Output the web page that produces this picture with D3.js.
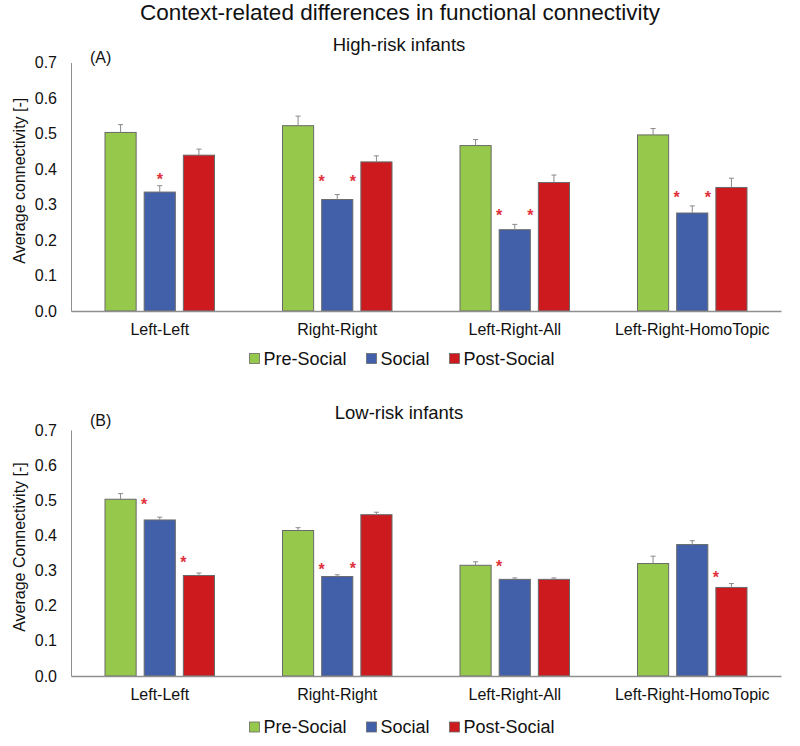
<!DOCTYPE html>
<html>
<head>
<meta charset="utf-8">
<script src="https://cdn.jsdelivr.net/npm/d3@7"></script>
<style>
  html, body { margin: 0; padding: 0; background: #fff; }
  svg { display: block; font-family: "Liberation Sans", Arial, sans-serif; }
</style>
</head>
<body>
<svg id="chart" width="800" height="746"></svg>
<script>
// ---------- data ----------
const categories = ["Left-Left", "Right-Right", "Left-Right-All", "Left-Right-HomoTopic"];
const seriesNames = ["Pre-Social", "Social", "Post-Social"];
const yTicks = [0.0, 0.1, 0.2, 0.3, 0.4, 0.5, 0.6, 0.7];

const titleText = "Context-related differences in functional connectivity";

// (A) High-risk infants
const highPre       = [0.503, 0.522, 0.466, 0.496];
const highSocial    = [0.335, 0.314, 0.229, 0.276];
const highPost      = [0.439, 0.420, 0.362, 0.348];
const highPreErr    = [0.022, 0.027, 0.017, 0.018];
const highSocialErr = [0.018, 0.014, 0.015, 0.020];
const highPostErr   = [0.017, 0.017, 0.021, 0.026];
// significance markers: category, anchored bar, which edge of that bar, height value
const highStars = [
  ["Left-Left", "Social", "center", 0.383],
  ["Right-Right", "Social", "left", 0.377],
  ["Right-Right", "Social", "right", 0.377],
  ["Left-Right-All", "Social", "left", 0.281],
  ["Left-Right-All", "Social", "right", 0.281],
  ["Left-Right-HomoTopic", "Social", "left", 0.330],
  ["Left-Right-HomoTopic", "Social", "right", 0.330]
];

// (B) Low-risk infants
const lowPre       = [0.503, 0.414, 0.315, 0.320];
const lowSocial    = [0.444, 0.283, 0.275, 0.374];
const lowPost      = [0.286, 0.459, 0.275, 0.252];
const lowPreErr    = [0.016, 0.008, 0.010, 0.021];
const lowSocialErr = [0.008, 0.005, 0.004, 0.011];
const lowPostErr   = [0.007, 0.007, 0.004, 0.011];
const lowStars = [
  ["Left-Left", "Social", "left", 0.500],
  ["Left-Left", "Post-Social", "left", 0.335],
  ["Right-Right", "Social", "left", 0.315],
  ["Right-Right", "Social", "right", 0.317],
  ["Left-Right-All", "Social", "left", 0.322],
  ["Left-Right-HomoTopic", "Post-Social", "left", 0.293]
];

// ---------- styling ----------
const colors = { "Pre-Social": "#95C84B", "Social": "#4160A9", "Post-Social": "#CC1A1F" };
const axisColor = "#8f8f8f";
const barStroke = "#6a6a6a";
const errColor = "#8a8a8a";
const starColor = "#E0323B";

const svg = d3.select("#chart");

svg.append("text")
  .attr("x", 400).attr("y", 20)
  .attr("text-anchor", "middle")
  .style("font-size", "22.5px").style("fill", "#111")
  .text(titleText);

const panels = [
  { label: "(A)", subtitle: "High-risk infants", yLabel: "Average connectivity [-]",
    top: 62.5, bottom: 311, subY: 51, tagY: 63, legendOffset: 47.5,
    values: [highPre, highSocial, highPost], errs: [highPreErr, highSocialErr, highPostErr], stars: highStars },
  { label: "(B)", subtitle: "Low-risk infants", yLabel: "Average Connectivity [-]",
    top: 430, bottom: 676, subY: 419, tagY: 426, legendOffset: 51,
    values: [lowPre, lowSocial, lowPost], errs: [lowPreErr, lowSocialErr, lowPostErr], stars: lowStars }
];

const left = 71, right = 781;
const x0 = d3.scaleBand().domain(categories).range([left, right]).padding(0);
const x1 = d3.scaleBand().domain(seriesNames).range([34, 143.5]).paddingInner(0.205).paddingOuter(0);

panels.forEach(p => {
  const g = svg.append("g");
  const y = d3.scaleLinear().domain([0, 0.7]).range([p.bottom, p.top]);

  // subtitle + tag
  g.append("text").attr("x", 399).attr("y", p.subY).attr("text-anchor", "middle")
    .style("font-size", "18.5px").style("fill", "#111").text(p.subtitle);
  g.append("text").attr("x", 90).attr("y", p.tagY)
    .style("font-size", "16px").style("fill", "#111").text(p.label);

  // y axis
  const yAxis = g.append("g").attr("transform", `translate(${left},0)`)
    .call(d3.axisLeft(y).tickValues(yTicks).tickFormat(d3.format(".1f")).tickSize(0).tickPadding(14));
  yAxis.select(".domain").attr("stroke", axisColor);
  yAxis.selectAll("text").style("font-size", "16px").style("fill", "#111").style("font-family", "Liberation Sans, Arial, sans-serif");

  // y label
  g.append("text")
    .attr("transform", `translate(25,${(p.top + p.bottom) / 2 - 6}) rotate(-90)`)
    .attr("text-anchor", "middle")
    .style("font-size", "16px").style("fill", "#111")
    .text(p.yLabel);

  // bars
  const rows = [];
  categories.forEach((c, ci) => {
    seriesNames.forEach((s, si) => {
      rows.push({ cat: c, series: s, v: p.values[si][ci], e: p.errs[si][ci] });
    });
  });

  g.selectAll("rect.bar").data(rows).join("rect")
    .attr("class", "bar")
    .attr("x", d => x0(d.cat) + x1(d.series))
    .attr("y", d => y(d.v))
    .attr("width", x1.bandwidth())
    .attr("height", d => y(0) - y(d.v))
    .attr("fill", d => colors[d.series])
    .attr("stroke", barStroke).attr("stroke-width", 1);

  // error bars
  const eg = g.selectAll("g.err").data(rows).join("g").attr("class", "err");
  eg.append("line")
    .attr("x1", d => x0(d.cat) + x1(d.series) + x1.bandwidth() / 2)
    .attr("x2", d => x0(d.cat) + x1(d.series) + x1.bandwidth() / 2)
    .attr("y1", d => y(d.v)).attr("y2", d => y(d.v + d.e))
    .attr("stroke", errColor).attr("stroke-width", 1);
  eg.append("line")
    .attr("x1", d => x0(d.cat) + x1(d.series) + x1.bandwidth() / 2 - 2.5)
    .attr("x2", d => x0(d.cat) + x1(d.series) + x1.bandwidth() / 2 + 2.5)
    .attr("y1", d => y(d.v + d.e)).attr("y2", d => y(d.v + d.e))
    .attr("stroke", errColor).attr("stroke-width", 1);

  // x axis
  const xAxis = g.append("g").attr("transform", `translate(0,${p.bottom})`)
    .call(d3.axisBottom(x0).tickSize(0).tickSizeOuter(0).tickPadding(12.5));
  xAxis.select(".domain").attr("stroke", axisColor).attr("stroke-width", 1.5);
  xAxis.selectAll("text").style("font-size", "16px").style("fill", "#111").style("font-family", "Liberation Sans, Arial, sans-serif");

  // significance stars
  g.selectAll("text.star").data(p.stars).join("text")
    .attr("class", "star")
    .attr("x", d => {
      const bx = x0(d[0]) + x1(d[1]);
      return d[2] === "left" ? bx : d[2] === "right" ? bx + x1.bandwidth() : bx + x1.bandwidth() / 2;
    })
    .attr("y", d => y(d[3]))
    .attr("dy", "0.6em")
    .attr("text-anchor", "middle")
    .style("font-size", "16px").style("font-weight", "bold").style("fill", starColor)
    .text("*");

  // legend
  const lg = g.append("g").attr("transform", `translate(0,${p.bottom + p.legendOffset})`);
  let xPos = 0;
  const items = [];
  seriesNames.forEach(s => {
    const it = lg.append("g");
    it.append("rect").attr("x", 0).attr("y", -5).attr("width", 10).attr("height", 10)
      .attr("fill", colors[s]).attr("stroke", barStroke).attr("stroke-width", 0.8);
    const t = it.append("text").attr("x", 14).attr("y", 0).attr("dy", "0.35em")
      .style("font-size", "18px").style("fill", "#111").text(s);
    const w = 14 + t.node().getComputedTextLength();
    items.push({ it, x: xPos });
    xPos += w + 20;
  });
  const total = xPos - 20;
  const startX = 402 - total / 2;
  items.forEach(d => d.it.attr("transform", `translate(${startX + d.x},0)`));
});
</script>
</body>
</html>
